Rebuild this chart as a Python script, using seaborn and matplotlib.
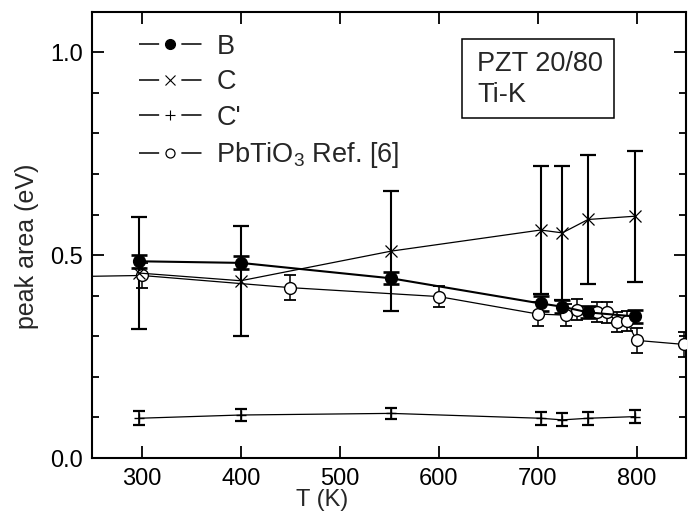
#!/usr/bin/env python3
import matplotlib
matplotlib.use('Agg')
import matplotlib.pyplot as plt
from matplotlib.lines import Line2D
from matplotlib.patches import Rectangle
from matplotlib.ticker import MultipleLocator, FormatStrFormatter
import seaborn as sns

sns.set_theme(context='paper', style='ticks')
plt.rcParams['font.family'] = ['Liberation Sans', 'DejaVu Sans']
plt.rcParams['lines.scale_dashes'] = False

# sample temperatures (K)
T_sample = [297, 400, 552, 703, 725, 751, 798]

# peak B
b_area = [0.485, 0.481, 0.443, 0.381, 0.373, 0.359, 0.349]
b_err = [0.016, 0.016, 0.015, 0.019, 0.016, 0.015, 0.016]

# peak C
c_area = [0.456, 0.437, 0.510, 0.562, 0.555, 0.588, 0.596]
c_err = [0.138, 0.135, 0.148, 0.158, 0.165, 0.158, 0.162]

# peak C'
cp_area = [0.098, 0.106, 0.110, 0.098, 0.094, 0.098, 0.102]
cp_err = [0.017, 0.016, 0.013, 0.016, 0.016, 0.016, 0.016]

# PbTiO3 reference [6]
T_ref = [200, 300, 450, 600, 700, 729, 740, 760, 770, 780, 790, 800, 848]
ref_area = [0.446, 0.450, 0.420, 0.398, 0.355, 0.352, 0.366, 0.360, 0.359,
            0.336, 0.337, 0.290, 0.280]
ref_err = [0.030, 0.030, 0.030, 0.025, 0.030, 0.027, 0.025, 0.025, 0.025,
           0.025, 0.025, 0.030, 0.030]

FS_TICK = 17
FS_TEXT = 19.5

fig = plt.figure(figsize=(6.94, 5.13), dpi=100)
ax = fig.add_axes([0.133, 0.1072, 0.8555, 0.8698])

# error bars first so markers sit on top
ax.errorbar(T_sample, c_area, yerr=c_err, fmt='none', ecolor='black',
            elinewidth=1.5, capsize=5.5, capthick=1.6, zorder=2)
ax.errorbar(T_sample, b_area, yerr=b_err, fmt='none', ecolor='black',
            elinewidth=1.5, capsize=5.5, capthick=1.9, zorder=2)
ax.errorbar(T_sample, cp_area, yerr=cp_err, fmt='none', ecolor='black',
            elinewidth=1.2, capsize=4.5, capthick=1.6, zorder=2)
ax.errorbar(T_ref, ref_area, yerr=ref_err, fmt='none', ecolor='black',
            elinewidth=1.1, capsize=4, capthick=1.3, zorder=2)

sns.lineplot(x=T_ref, y=ref_area, ax=ax, color='black', linewidth=0.9,
             marker='o', markersize=8.5, markerfacecolor='white',
             markeredgecolor='black', markeredgewidth=1.0, zorder=3)
sns.lineplot(x=T_sample, y=cp_area, ax=ax, color='black', linewidth=0.9,
             marker='+', markersize=7, markeredgecolor='black',
             markeredgewidth=1.0, zorder=3)
sns.lineplot(x=T_sample, y=c_area, ax=ax, color='black', linewidth=0.9,
             marker='x', markersize=8.5, markeredgecolor='black',
             markeredgewidth=0.9, zorder=3)
sns.lineplot(x=T_sample, y=b_area, ax=ax, color='black', linewidth=1.5,
             marker='o', markersize=8.5, markerfacecolor='black',
             markeredgecolor='black', markeredgewidth=1.0, zorder=4)

ax.set_xlim(250, 850)
ax.set_ylim(0, 1.1)
ax.xaxis.set_major_locator(MultipleLocator(100))
ax.yaxis.set_major_locator(MultipleLocator(0.5))
ax.yaxis.set_minor_locator(MultipleLocator(0.1))
ax.yaxis.set_major_formatter(FormatStrFormatter('%.1f'))
ax.tick_params(which='both', direction='in', top=True, right=True,
               labelsize=FS_TICK, width=1.3, colors='black')
ax.tick_params(which='major', length=8.5, pad=7)
ax.tick_params(which='minor', length=5)
for sp in ax.spines.values():
    sp.set_linewidth(1.5)
    sp.set_color('black')

ax.set_xlabel('T (K)', fontsize=FS_TICK)
ax.set_ylabel('peak area (eV)', fontsize=18)
ax.xaxis.set_label_coords(0.387, -0.07)
ax.yaxis.set_label_coords(-0.09, 0.475)

# legend with gapped lines around the markers
gap = (0, (14.5, 16, 14.5, 100))
handles = [
    Line2D([], [], color='black', lw=1.1, ls=gap, marker='o', ms=7,
           mfc='black', mec='black'),
    Line2D([], [], color='black', lw=1.1, ls=gap, marker='x', ms=7,
           mec='black', mew=0.8),
    Line2D([], [], color='black', lw=1.1, ls=gap, marker='+', ms=7,
           mec='black', mew=0.8),
    Line2D([], [], color='black', lw=1.1, ls=gap, marker='o', ms=6.5,
           mfc='white', mec='black', mew=0.9),
]
labels = ['B', 'C', "C'", r'PbTiO$_{\mathregular{3}}$ Ref. [6]']
ax.legend(handles, labels, loc='upper left', bbox_to_anchor=(0.07, 0.963),
          frameon=False, fontsize=FS_TEXT, handlelength=2.3,
          handletextpad=0.55, labelspacing=0.35, borderaxespad=0,
          borderpad=0.2)

ax.add_patch(Rectangle((0.622, 0.763), 0.257, 0.177, transform=ax.transAxes,
                       fc='white', ec='black', lw=1.1, zorder=5))
ax.text(0.648, 0.912, 'PZT 20/80\nTi-K', transform=ax.transAxes,
        ha='left', va='top', fontsize=FS_TEXT, linespacing=1.25, zorder=6)

fig.savefig('out.png', dpi=100)
